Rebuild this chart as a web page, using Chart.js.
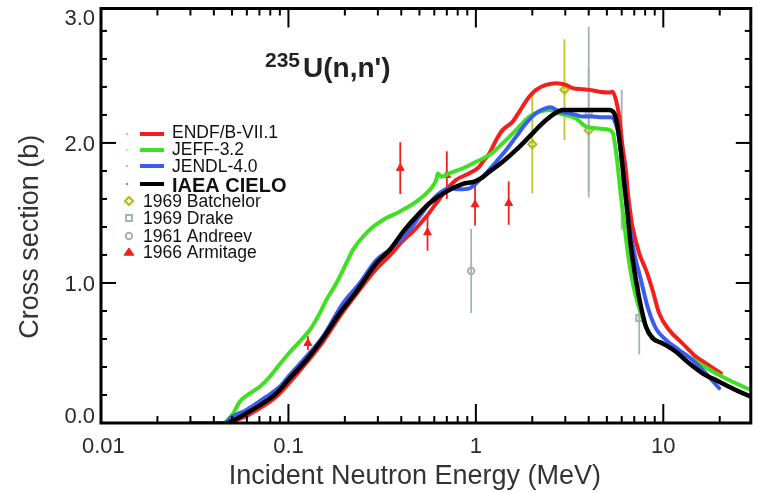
<!DOCTYPE html>
<html><head><meta charset="utf-8">
<script src="https://cdn.jsdelivr.net/npm/chart.js@4.4.0/dist/chart.umd.min.js"></script>
<style>html,body{margin:0;padding:0;background:#fff;}#wrap{width:757px;height:493px;}</style>
</head><body><div id="wrap"><canvas id="c" width="757" height="493"></canvas></div>
<script>
// ---------- data ----------
const endfE = [0.048,0.0597,0.0732,0.0863,0.1016,0.1247,0.1528,0.1876,0.2303,0.2943,0.35,0.40,0.471,0.5436,0.6146,0.695,0.785,0.9245,1.045,1.088,1.182,1.283,1.391,1.573,1.707,1.93,2.095,2.368,2.678,3.028,3.282,3.71,4.03,4.555,5.15,5.363,5.59,5.82,6.06,6.32,6.45,6.72,6.85,7.44,8.08,8.76,9.51,10.75,12.66,14.92,16.87,20.27];
const endfS = [0.0,0.05,0.12,0.19,0.29,0.43,0.58,0.76,0.92,1.10,1.20,1.29,1.379,1.474,1.569,1.664,1.736,1.784,1.831,1.866,1.926,2.021,2.093,2.152,2.224,2.331,2.379,2.414,2.426,2.414,2.391,2.383,2.379,2.366,2.36,2.366,2.307,2.188,1.974,1.80,1.664,1.47,1.40,1.212,1.093,0.95,0.783,0.664,0.569,0.474,0.426,0.355];

const jeffE = [0.03,0.0448,0.0507,0.055,0.0622,0.0703,0.0795,0.0899,0.1016,0.1149,0.1299,0.1469,0.1594,0.1802,0.2037,0.2209,0.271,0.3192,0.3917,0.481,0.566,0.6146,0.6266,0.6535,0.7235,0.852,1.004,1.182,1.391,1.64,1.93,2.182,2.467,2.789,3.42,3.869,4.375,4.945,5.363,5.59,5.94,6.32,6.72,7.145,7.60,8.24,9.13,10.75,12.66,15.54,19.06,23.37,29.3];
const jeffS = [0.0,0.0,0.069,0.152,0.212,0.259,0.33,0.42,0.505,0.581,0.664,0.783,0.879,0.998,1.141,1.236,1.379,1.45,1.509,1.581,1.664,1.736,1.784,1.759,1.784,1.819,1.866,1.914,1.998,2.093,2.188,2.224,2.236,2.212,2.174,2.117,2.105,2.098,2.075,1.94,1.62,1.32,1.069,0.902,0.783,0.664,0.593,0.545,0.498,0.426,0.355,0.295,0.236];

const jendlE = [0.03,0.046,0.0487,0.0597,0.0763,0.0899,0.1016,0.1247,0.1528,0.1954,0.2399,0.2943,0.35,0.4428,0.5006,0.566,0.64,0.7235,0.818,0.9245,1.004,1.135,1.283,1.45,1.64,1.854,2.095,2.368,2.518,2.678,2.789,3.153,3.42,3.71,4.196,4.743,5.15,5.363,5.47,5.70,5.82,6.06,6.19,6.32,6.58,7.0,7.60,8.24,9.13,10.32,12.15,14.31,16.87,19.86];
const jendlS = [0.0,0.0,0.034,0.093,0.188,0.259,0.343,0.474,0.617,0.855,0.998,1.164,1.24,1.379,1.474,1.569,1.641,1.676,1.669,1.676,1.712,1.784,1.866,1.95,2.045,2.141,2.212,2.248,2.255,2.236,2.224,2.212,2.2,2.188,2.188,2.184,2.184,2.18,2.164,2.093,2.021,1.855,1.736,1.616,1.42,1.212,1.021,0.831,0.676,0.593,0.521,0.45,0.355,0.248];

const cieloE = [0.048,0.0597,0.0732,0.0863,0.1016,0.1247,0.1528,0.1876,0.2303,0.2943,0.3465,0.4165,0.481,0.566,0.695,0.852,0.983,1.067,1.182,1.391,1.64,1.93,2.272,2.569,2.904,3.71,4.743,5.15,5.47,5.70,5.94,6.19,6.45,6.72,7.145,7.60,8.08,8.76,9.90,11.67,13.74,16.18,19.86,24.37,29.3];
const cieloS = [0.0,0.069,0.141,0.212,0.319,0.45,0.605,0.783,0.937,1.14,1.236,1.379,1.474,1.569,1.652,1.707,1.724,1.748,1.795,1.866,1.95,2.045,2.141,2.2,2.236,2.236,2.236,2.236,2.212,2.12,1.94,1.71,1.49,1.259,1.021,0.831,0.688,0.605,0.569,0.509,0.426,0.355,0.295,0.236,0.188];

const batchelorE = [2.0,2.97,4.0];
const batchelorS = [1.99,2.38,2.09];
const batchelorErr = [0.35,0.36,0.44];

const drakeE = [4.0,6.0,7.44];
const drakeS = [2.22,1.88,0.75];
const drakeErr = [0.61,0.5,0.26];

const andreevE = [0.944];
const andreevS = [1.086];
const andreevErr = [0.3];

const armitageE = [0.127,0.395,0.552,0.70,0.99,1.497];
const armitageS = [0.57,1.82,1.36,1.77,1.56,1.57];
const armitageErr = [0.05,0.185,0.13,0.17,0.15,0.155];

const xTickValues = [0.01,0.1,1,10];
const xTickLabels = ['0.01','0.1','1','10'];
const yTickValues = [0,1,2,3];
const yTickLabels = ['0.0','1.0','2.0','3.0'];

const seriesNames = ['ENDF/B-VII.1','JEFF-3.2','JENDL-4.0','IAEA CIELO'];
const expNames = ['1969 Batchelor','1969 Drake','1961 Andreev','1966 Armitage'];
const titleSup = '235';
const titleMain = "U(n,n')";
const xTitle = 'Incident Neutron Energy (MeV)';
const yTitle = 'Cross section (b)';

// ---------- styles ----------
const FONT = "'Liberation Sans', Arial, Helvetica, sans-serif";
const RED = '#f41f1c', GREEN = '#3fe024', BLUE = '#3a5cf0', BLACK = '#000000';
const OLIVE = '#afbd1d', GRAY = '#a3b2b2';

function pts(E, S) { return E.map((e, i) => ({x: e, y: S[i]})); }

const lineDefaults = {pointRadius: 0, cubicInterpolationMode: 'monotone', fill: false, borderCapStyle: 'round', borderJoinStyle: 'round'};

const errGroups = [
  {E: armitageE, S: armitageS, err: armitageErr, color: RED},
  {E: batchelorE, S: batchelorS, err: batchelorErr, color: '#bcc62c'},
  {E: drakeE, S: drakeS, err: drakeErr, color: GRAY},
  {E: andreevE, S: andreevS, err: andreevErr, color: GRAY}
];

function drawMarker(ctx, style, x, y, r, fill, stroke, lw) {
  ctx.save();
  ctx.beginPath();
  if (style === 'rectRot') {
    ctx.moveTo(x, y - r); ctx.lineTo(x + r, y); ctx.lineTo(x, y + r); ctx.lineTo(x - r, y); ctx.closePath();
  } else if (style === 'rect') {
    const s = r * Math.SQRT1_2; ctx.rect(x - s, y - s, 2 * s, 2 * s);
  } else if (style === 'circle') {
    ctx.arc(x, y, r, 0, Math.PI * 2);
  } else if (style === 'triangle') {
    ctx.moveTo(x, y - r); ctx.lineTo(x + r * 1.1, y + r * 0.6); ctx.lineTo(x - r * 1.1, y + r * 0.6); ctx.closePath();
  }
  if (fill) { ctx.fillStyle = fill; ctx.fill(); }
  if (stroke) { ctx.strokeStyle = stroke; ctx.lineWidth = lw; ctx.stroke(); }
  ctx.restore();
}

const framePlugin = {
  id: 'framePlugin',
  beforeDatasetsDraw(chart) {
    const ctx = chart.ctx, xs = chart.scales.x, ys = chart.scales.y;
    ctx.save();
    ctx.lineWidth = 1.8;
    errGroups.forEach(g => {
      ctx.strokeStyle = g.color;
      g.E.forEach((e, i) => {
        const px = xs.getPixelForValue(e);
        ctx.beginPath();
        ctx.moveTo(px, ys.getPixelForValue(g.S[i] - g.err[i]));
        ctx.lineTo(px, ys.getPixelForValue(g.S[i] + g.err[i]));
        ctx.stroke();
      });
    });
    ctx.restore();
  },
  afterDatasetsDraw(chart) {
    const ctx = chart.ctx, xs = chart.scales.x, ys = chart.scales.y, a = chart.chartArea;
    ctx.save();
    // ticks
    ctx.strokeStyle = '#000'; ctx.lineWidth = 2;
    const seg = (x1, y1, x2, y2) => { ctx.beginPath(); ctx.moveTo(x1, y1); ctx.lineTo(x2, y2); ctx.stroke(); };
    for (let d = -2; d <= 1; d++) {
      for (let k = 1; k <= 9; k++) {
        const v = k * Math.pow(10, d);
        if (v < xs.min || v > xs.max) continue;
        const px = xs.getPixelForValue(v);
        const L = k === 1 ? 19 : 7;
        seg(px, a.bottom, px, a.bottom - L);
        seg(px, a.top, px, a.top + L);
      }
    }
    for (let i = 0; i * 0.2 <= ys.max + 1e-9; i++) {
      const v = i * 0.2;
      const py = ys.getPixelForValue(v);
      const L = (i % 5 === 0) ? 15 : 6;
      seg(a.left, py, a.left + L, py);
      seg(a.right, py, a.right - L, py);
    }
    // frame
    ctx.lineWidth = 3;
    ctx.strokeRect(a.left, a.top, a.right - a.left, a.bottom - a.top);

    // tick labels
    ctx.fillStyle = '#2a2a2a';
    ctx.font = '22px ' + FONT;
    ctx.textBaseline = 'alphabetic';
    const dh = 15.5;
    ctx.textAlign = 'right';
    yTickValues.forEach((v, i) => {
      let cy = ys.getPixelForValue(v);
      cy = Math.min(Math.max(cy, a.top + dh / 2 + 1), a.bottom - dh / 2);
      ctx.fillText(yTickLabels[i], a.left - 6, cy + dh / 2);
    });
    ctx.textAlign = 'center';
    xTickValues.forEach((v, i) => {
      const w = ctx.measureText(xTickLabels[i]).width;
      let cx = xs.getPixelForValue(v);
      cx = Math.max(cx, a.left + w / 2 - 19);
      ctx.fillText(xTickLabels[i], cx, a.bottom + 30);
    });

    // axis titles
    ctx.fillStyle = '#333';
    ctx.font = '27px ' + FONT;
    ctx.textAlign = 'center';
    ctx.fillText(xTitle, (a.left + a.right) / 2 - 11, 484);
    ctx.save();
    ctx.translate(38, (a.top + a.bottom) / 2 + 21);
    ctx.rotate(-Math.PI / 2);
    ctx.fillText(yTitle, 0, 0);
    ctx.restore();

    // chart title
    ctx.fillStyle = '#222';
    ctx.textAlign = 'left';
    ctx.font = 'bold 21px ' + FONT;
    ctx.fillText(titleSup, 265, 67);
    const sw = ctx.measureText(titleSup).width;
    ctx.font = 'bold 28px ' + FONT;
    ctx.fillText(titleMain, 265 + sw + 3, 77);

    // legend: lines
    const lineCols = [RED, GREEN, BLUE, BLACK];
    const dotCols = ['#f8b0b0', '#b8f0a8', '#b0bcf4', '#909090'];
    const lineY = [134, 150, 166, 184];
    const lineBase = [138, 155, 171.5, 191.5];
    lineCols.forEach((c, i) => {
      ctx.fillStyle = dotCols[i];
      ctx.beginPath(); ctx.arc(127, lineY[i], 1.3, 0, Math.PI * 2); ctx.fill();
      ctx.strokeStyle = c; ctx.lineWidth = 4; ctx.lineCap = 'butt';
      seg(140, lineY[i], 164, lineY[i]);
      ctx.fillStyle = '#111';
      ctx.font = (i === 3 ? 'bold 20px ' : '17.5px ') + FONT;
      ctx.fillText(seriesNames[i], 172, lineBase[i]);
    });
    // legend: markers
    const mk = [
      ['rectRot', 4, null, OLIVE, 2.2],
      ['rect', 4.2, null, GRAY, 2],
      ['circle', 3.2, null, GRAY, 2],
      ['triangle', 4.5, RED, RED, 1]
    ];
    const mY = [201, 218, 236, 252.5];
    const mBase = [207, 223.5, 241.5, 258];
    mk.forEach((m, i) => {
      drawMarker(ctx, m[0], 129, mY[i], m[1], m[2], m[3], m[4]);
      ctx.fillStyle = '#111';
      ctx.font = '17.5px ' + FONT;
      ctx.fillText(expNames[i], 143, mBase[i]);
    });
    ctx.restore();
  }
};

const chart = new Chart(document.getElementById('c'), {
  type: 'line',
  data: {
    datasets: [
      Object.assign({label: seriesNames[3], data: pts(cieloE, cieloS), borderColor: BLACK, borderWidth: 4.5, order: 1}, lineDefaults),
      Object.assign({label: seriesNames[2], data: pts(jendlE, jendlS), borderColor: BLUE, borderWidth: 4, order: 2}, lineDefaults),
      Object.assign({label: seriesNames[1], data: pts(jeffE, jeffS), borderColor: GREEN, borderWidth: 4, order: 3}, lineDefaults),
      Object.assign({label: seriesNames[0], data: pts(endfE, endfS), borderColor: RED, borderWidth: 4, order: 4}, lineDefaults),
      {label: expNames[3], data: pts(armitageE, armitageS), showLine: false, pointStyle: 'triangle', pointRadius: 4.5, backgroundColor: RED, borderColor: RED, borderWidth: 1, order: 5},
      {label: expNames[0], data: pts(batchelorE, batchelorS), showLine: false, pointStyle: 'rectRot', pointRadius: 4, backgroundColor: 'rgba(255,255,255,0)', borderColor: OLIVE, borderWidth: 2.2, order: 5},
      {label: expNames[1], data: pts(drakeE, drakeS), showLine: false, pointStyle: 'rect', pointRadius: 4.2, backgroundColor: 'rgba(255,255,255,0)', borderColor: GRAY, borderWidth: 2, order: 6},
      {label: expNames[2], data: pts(andreevE, andreevS), showLine: false, pointStyle: 'circle', pointRadius: 3.2, backgroundColor: 'rgba(255,255,255,0)', borderColor: GRAY, borderWidth: 2, order: 5}
    ]
  },
  options: {
    responsive: false,
    animation: false,
    devicePixelRatio: 1,
    events: [],
    layout: {padding: {left: 101, right: 5, top: 8.5, bottom: 70}},
    plugins: {legend: {display: false}, tooltip: {enabled: false}, title: {display: false}},
    scales: {
      x: {type: 'logarithmic', min: 0.01, max: 29.3, display: false},
      y: {type: 'linear', min: 0, max: 2.96, display: false}
    }
  },
  plugins: [framePlugin]
});
</script>
</body></html>
